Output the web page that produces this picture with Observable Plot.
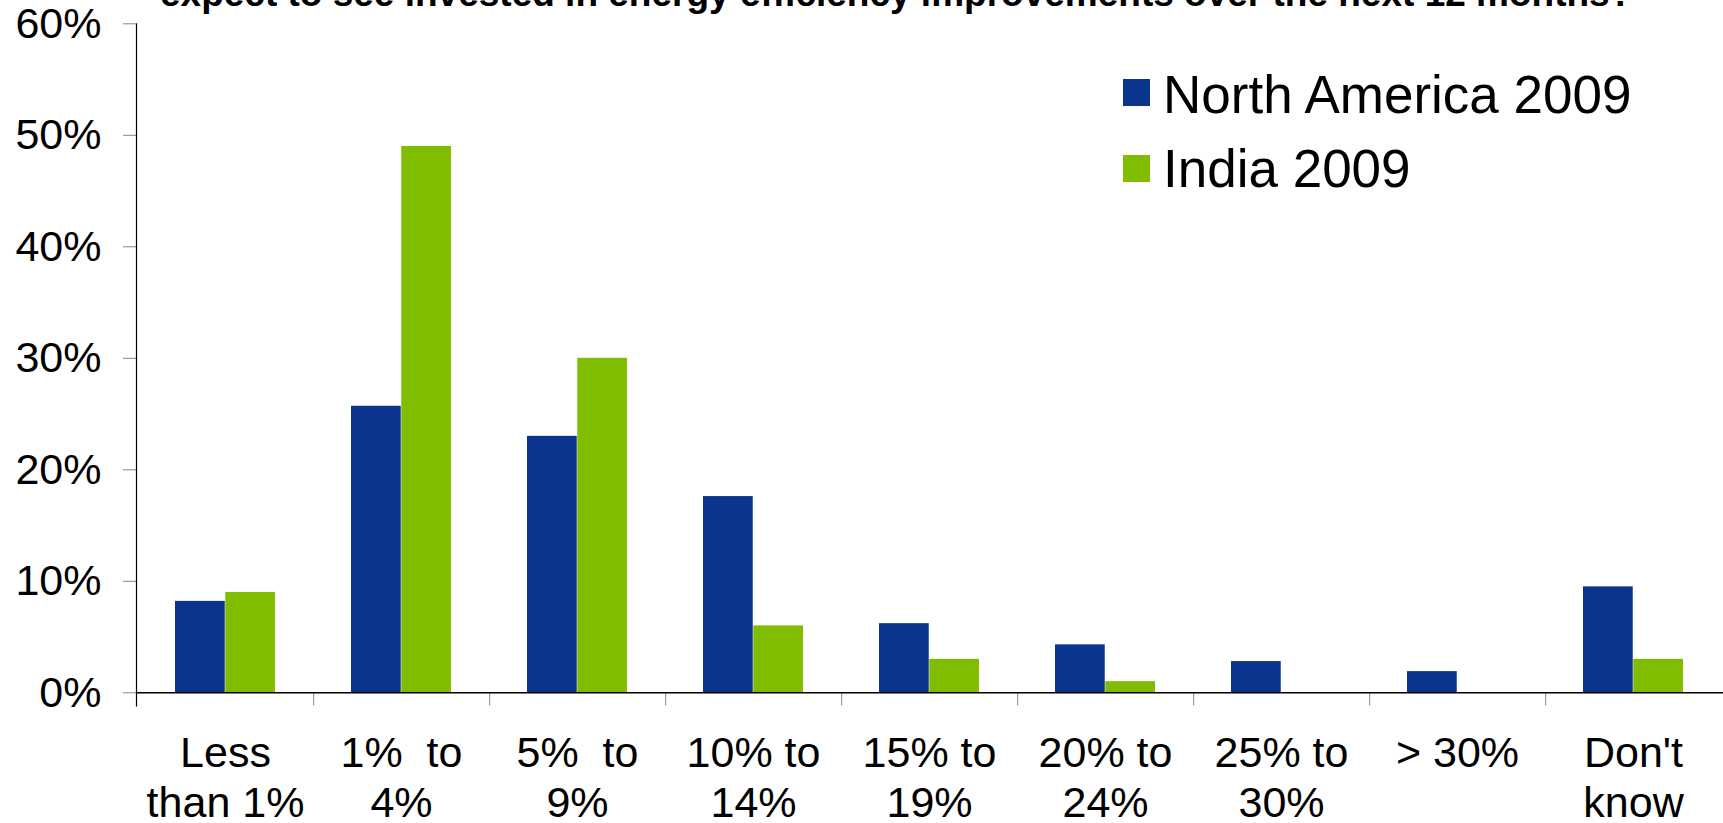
<!DOCTYPE html>
<html><head><meta charset="utf-8">
<script src="https://cdn.jsdelivr.net/npm/d3@7"></script>
<script src="https://cdn.jsdelivr.net/npm/@observablehq/plot@0.6"></script>
<style>
body{margin:0;background:#fff;}
#wrap{position:relative;width:1723px;height:823px;overflow:hidden;font-family:"Liberation Sans",Arial,sans-serif;background:#fff;}
#wrap svg{position:absolute;left:0;top:0;}
#title{position:absolute;left:160px;top:-25px;font-weight:bold;font-size:37px;line-height:37px;white-space:nowrap;color:#000;}
.leg{position:absolute;left:1163px;font-size:53px;line-height:53px;white-space:nowrap;color:#000;}
.sw{position:absolute;left:1123px;width:27px;height:27px;}
svg text{white-space:pre;}
</style></head>
<body><div id="wrap"></div>
<script>
const titleText = "expect to see invested in energy efficiency improvements over the next 12 months?";
const categories = ["Less\nthan 1%", "1%  to\n4%", "5%  to\n9%", "10% to\n14%", "15% to\n19%", "20% to\n24%", "25% to\n30%", "> 30%", "Don't\nknow"];
const seriesNames = ["North America 2009", "India 2009"];
const northAmerica = [8.2, 25.7, 23.0, 17.6, 6.2, 4.3, 2.8, 1.9, 9.5];
const india = [9.0, 49.0, 30.0, 6.0, 3.0, 1.0, 0, 0, 3.0];
const seriesColors = ["#0b348f", "#80bc00"];
const yTicks = [0, 10, 20, 30, 40, 50, 60];

const W = 1723, H = 823, ML = 136, MR = 0, MT = 23.3, MB = 130.7;
const padInner = 0.43, padOuter = 0.215;
const step = (W - ML - MR) / categories.length;
const half = step * (1 - padInner) / 2;

const naData = categories.map((c, i) => ({category: c, value: northAmerica[i]}));
const inData = categories.map((c, i) => ({category: c, value: india[i]})).filter(d => d.value > 0);

const chart = Plot.plot({
  width: W, height: H,
  marginLeft: ML, marginRight: MR, marginTop: MT, marginBottom: MB,
  style: {fontFamily: "'Liberation Sans', Arial, sans-serif", background: "transparent", color: "#000", overflow: "visible"},
  x: {type: "band", domain: categories, paddingInner: padInner, paddingOuter: padOuter, axis: null},
  y: {domain: [0, 60], axis: null},
  marks: [
    Plot.barY(naData, {x: "category", y: "value", fill: seriesColors[0], insetLeft: 0, insetRight: half}),
    Plot.barY(inData, {x: "category", y: "value", fill: seriesColors[1], insetLeft: half, insetRight: 0}),
    Plot.axisY({ticks: yTicks, tickSize: 13, tickPadding: 22, tickFormat: d => d + "%", fontSize: 43, stroke: "#888", fill: "#000", label: null}),
    Plot.axisX({tickSize: 0, tickPadding: 39, fontSize: 43, lineHeight: 50 / 43, fill: "#000", label: null}),
    Plot.axisX({ticks: categories.slice(0, -1), tickSize: 13, tickFormat: () => "", dx: step / 2, stroke: "#888", label: null}),
    Plot.ruleY([0], {stroke: "#000", strokeWidth: 1.5}),
    Plot.frame({anchor: "left", insetBottom: -13, stroke: "#000", strokeWidth: 1.2})
  ]
});

const wrap = document.getElementById("wrap");
wrap.appendChild(chart);

const t = document.createElement("div");
t.id = "title"; t.textContent = titleText;
wrap.appendChild(t);

const legTops = [68, 142], swTops = [79, 155];
seriesNames.forEach((name, i) => {
  const sw = document.createElement("div");
  sw.className = "sw"; sw.style.top = swTops[i] + "px"; sw.style.background = seriesColors[i];
  wrap.appendChild(sw);
  const lb = document.createElement("div");
  lb.className = "leg"; lb.style.top = legTops[i] + "px"; lb.textContent = name;
  wrap.appendChild(lb);
});
</script>
</body></html>
